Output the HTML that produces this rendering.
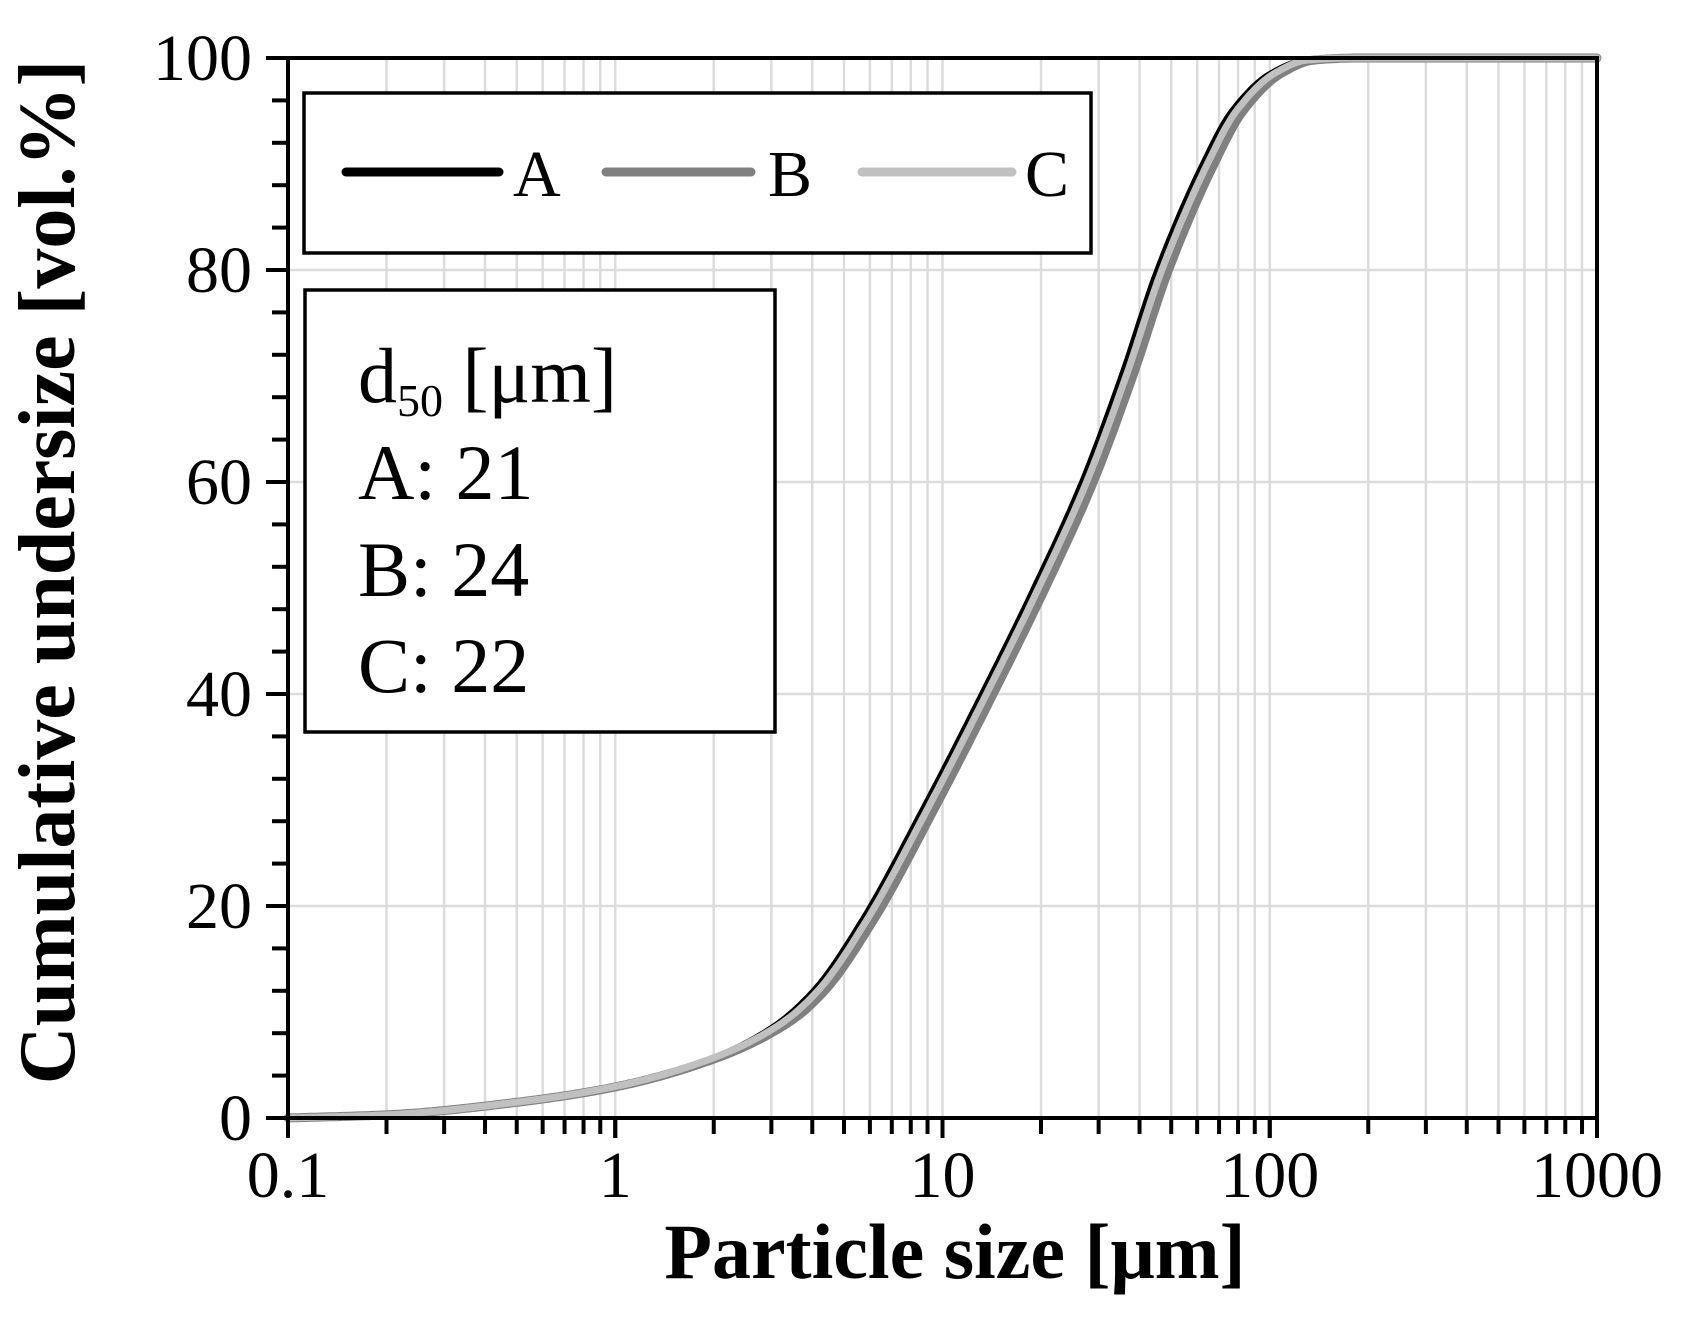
<!DOCTYPE html>
<html><head><meta charset="utf-8"><style>
html,body{margin:0;padding:0;background:#fff}
svg{display:block}
text{font-family:"Liberation Serif",serif;fill:#000}
</style></head><body>
<svg id="s" width="1683" height="1341" viewBox="0 0 1683 1341" xmlns="http://www.w3.org/2000/svg">
<g id="grid" stroke="#dcdcdc" stroke-width="2.5"></g>
<g id="curves" fill="none" stroke-linecap="round" stroke-linejoin="round"></g>
<g id="axes" stroke="#000" stroke-width="4" fill="none"></g>
<rect x="304" y="93" width="787" height="160" fill="#fff" stroke="#000" stroke-width="3.5"/>
<line x1="346" y1="172" x2="499" y2="172" stroke="#000" stroke-width="9" stroke-linecap="round"/>
<text x="513" y="196" font-size="66">A</text>
<line x1="606" y1="172" x2="751" y2="172" stroke="#808080" stroke-width="9" stroke-linecap="round"/>
<text x="768" y="196" font-size="66">B</text>
<line x1="862" y1="172" x2="1012" y2="172" stroke="#c0c0c0" stroke-width="9" stroke-linecap="round"/>
<text x="1025" y="196" font-size="66">C</text>
<rect x="305" y="290" width="470" height="442" fill="#fff" stroke="#000" stroke-width="3.5"/>
<text x="358" y="402" font-size="78">d<tspan font-size="46" dy="14">50</tspan><tspan dy="-14"> [μm]</tspan></text>
<text x="358" y="499" font-size="78">A: 21</text>
<text x="358" y="596" font-size="78">B: 24</text>
<text x="358" y="692" font-size="78">C: 22</text>
<g id="lab" font-size="66"></g>
<text x="955" y="1278" font-size="78" font-weight="bold" text-anchor="middle">Particle size [μm]</text>
<text transform="translate(74,572) rotate(-90)" font-size="80" font-weight="bold" text-anchor="middle">Cumulative undersize [vol.%]</text>
</svg>
<script>
const L=288,R=1597,T=58,B=1118,D=(R-L)/4;
const X=v=>L+(Math.log10(v)+1)*D, Y=p=>B-(B-T)*p/100;
const NS="http://www.w3.org/2000/svg";
function el(g,t,a,txt){const e=document.createElementNS(NS,t);for(const k in a)e.setAttribute(k,a[k]);if(txt)e.textContent=txt;document.getElementById(g).appendChild(e);return e;}
for(let d=-1;d<3;d++)for(let m=1;m<=10;m++){const v=m*Math.pow(10,d);const x=X(v);
 if(m>1) el("grid","line",{x1:x,y1:T,x2:x,y2:B});
 el("axes","line",{x1:x,y1:B,x2:x,y2:B+(m==1||m==10?20:16)});}
for(let p=20;p<100;p+=20)el("grid","line",{x1:L,y1:Y(p),x2:R,y2:Y(p)});
for(let p=0;p<=100;p+=4)el("axes","line",{x1:L-(p%20==0?22:16),y1:Y(p),x2:L,y2:Y(p)});
el("axes","rect",{x:L,y:T,width:R-L,height:B-T});
["0.1","1","10","100","1000"].forEach((s,i)=>el("lab","text",{x:L+i*D,y:1197,"text-anchor":"middle"},s));
for(let p=0;p<=100;p+=20)el("lab","text",{x:252,y:Y(p)+22,"text-anchor":"end"},String(p));
const raw=[[0.1,0],[0.2,0.3],[0.5,1.5],[1,3],[2,5.8],[3,8.6],[4,12],[5.6,18.5],[8.6,29],[13.1,40],[18.9,50],[26.5,60],[35,70],[45,80],[62,90],[76,95],[100,98.6],[125,99.8],[170,100]];
function pchip(xs,ys){const n=xs.length,h=[],dl=[],m=new Array(n);
 for(let i=0;i<n-1;i++){h[i]=xs[i+1]-xs[i];dl[i]=(ys[i+1]-ys[i])/h[i];}
 m[0]=dl[0];m[n-1]=0;
 for(let i=1;i<n-1;i++){if(dl[i-1]*dl[i]<=0)m[i]=0;else{const w1=2*h[i]+h[i-1],w2=h[i]+2*h[i-1];m[i]=(w1+w2)/(w1/dl[i-1]+w2/dl[i]);}}
 return x=>{if(x<=xs[0])return ys[0];if(x>=xs[n-1])return ys[n-1];let i=0;while(x>xs[i+1])i++;
  const t=(x-xs[i])/h[i],t2=t*t,t3=t2*t;
  return (2*t3-3*t2+1)*ys[i]+(t3-2*t2+t)*h[i]*m[i]+(-2*t3+3*t2)*ys[i+1]+(t3-t2)*h[i]*m[i+1];};}
const f=pchip(raw.map(r=>Math.log10(r[0])),raw.map(r=>r[1]));
function path(fac){
 let d="";const s=Math.log10(fac);
 for(let k=0;k<=500;k++){const lx=-1+4*k/500;
  let y=f(lx-s);const w=Math.min(1,y/10);
  const p=Math.max(0,Math.min(100,f(lx-s*w)));
  d+=(k?" L":"M")+X(Math.pow(10,lx)).toFixed(1)+","+Y(p).toFixed(1);}
 return d;}
el("curves","path",{d:path(1.09),stroke:"#808080","stroke-width":9});
el("curves","path",{d:path(1),stroke:"#000","stroke-width":4});
el("curves","path",{d:path(1.04),stroke:"#c0c0c0","stroke-width":7});
</script>
</body></html>
